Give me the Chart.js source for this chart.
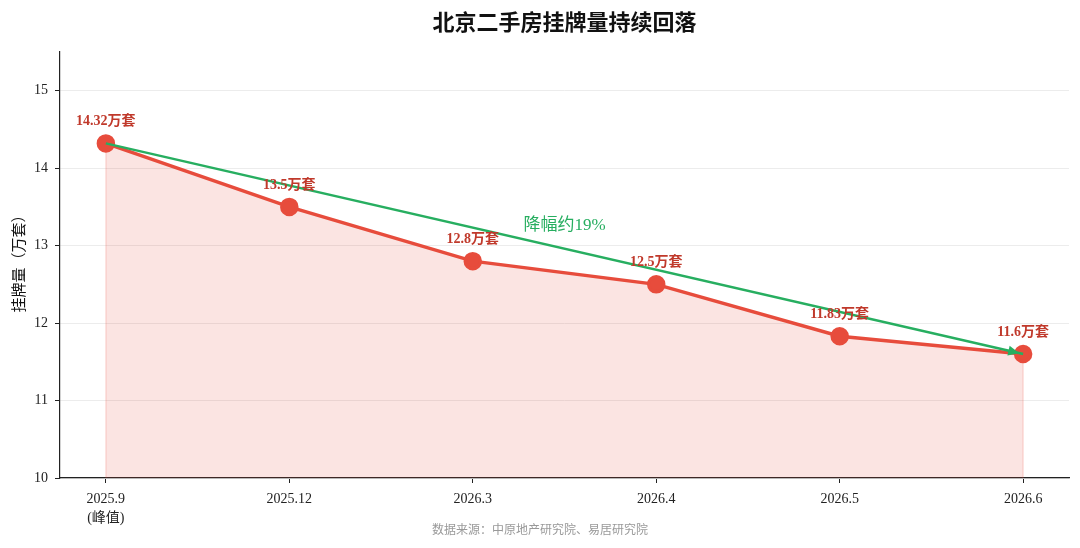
<!DOCTYPE html>
<html>
<head>
<meta charset="utf-8">
<script src="https://cdn.jsdelivr.net/npm/chart.js@4"></script>
<style>
  html, body { margin: 0; padding: 0; background: #fff; }
  canvas { display: block; }
</style>
</head>
<body>
<canvas id="listingChart" width="1080" height="548"></canvas>
<script>
// chart data
const months = ['2025.9', '2025.12', '2026.3', '2026.4', '2026.5', '2026.6'];
const monthNotes = ['(峰值)', '', '', '', '', ''];
const listings = [14.32, 13.5, 12.8, 12.5, 11.83, 11.6];
const yTicks = [10, 11, 12, 13, 14, 15];

const RED = '#e74c3c';
const LABEL_RED = '#c0392b';
const GREEN = '#27ae60';
const SERIF = '"Liberation Serif", "DejaVu Serif", "Noto Sans CJK SC", serif';

/**
 * Draw title, axis title, source note, point labels and arrow head
 */
const decorPlugin = {
    id: 'decor',
    beforeDatasetsDraw(chart) {
        // faint edges of the filled area
        const ctx = chart.ctx;
        const x = chart.scales.x;
        const y = chart.scales.y;
        ctx.save();
        ctx.strokeStyle = 'rgba(231, 76, 60, 0.18)';
        ctx.lineWidth = 1.5;
        [0, listings.length - 1].forEach(i => {
            ctx.beginPath();
            ctx.moveTo(x.getPixelForValue(i), y.getPixelForValue(listings[i]));
            ctx.lineTo(x.getPixelForValue(i), y.bottom);
            ctx.stroke();
        });
        ctx.restore();
    },
    afterDatasetsDraw(chart) {
        const ctx = chart.ctx;
        const x = chart.scales.x;
        const y = chart.scales.y;
        const area = chart.chartArea;
        ctx.save();

        // point labels
        ctx.fillStyle = LABEL_RED;
        ctx.font = 'bold 14px ' + SERIF;
        ctx.textAlign = 'center';
        ctx.textBaseline = 'alphabetic';
        listings.forEach((v, i) => {
            ctx.fillText(v + '万套', x.getPixelForValue(i), y.getPixelForValue(v) - 18);
        });

        // arrow head on the trend line
        const x0 = x.getPixelForValue(0), y0 = y.getPixelForValue(listings[0]);
        const last = listings.length - 1;
        const x1 = x.getPixelForValue(last), y1 = y.getPixelForValue(listings[last]);
        const ang = Math.atan2(y1 - y0, x1 - x0);
        const tipX = x1 - 4 * Math.cos(ang), tipY = y1 - 4 * Math.sin(ang);
        ctx.fillStyle = GREEN;
        ctx.beginPath();
        ctx.moveTo(tipX, tipY);
        ctx.lineTo(tipX - 11 * Math.cos(ang) + 5 * Math.sin(ang), tipY - 11 * Math.sin(ang) - 5 * Math.cos(ang));
        ctx.lineTo(tipX - 11 * Math.cos(ang) - 5 * Math.sin(ang), tipY - 11 * Math.sin(ang) + 5 * Math.cos(ang));
        ctx.closePath();
        ctx.fill();

        // drop label
        ctx.font = '17px ' + SERIF;
        ctx.fillText('降幅约19%', x.getPixelForValue(2.5), y.getPixelForValue(13.2));

        // title
        ctx.fillStyle = '#111';
        ctx.font = 'bold 22px ' + SERIF;
        ctx.textBaseline = 'middle';
        ctx.fillText('北京二手房挂牌量持续回落', (area.left + area.right) / 2, 24);

        // y axis title
        ctx.save();
        ctx.translate(20, 260);
        ctx.rotate(-Math.PI / 2);
        ctx.font = '15px ' + SERIF;
        ctx.fillText('挂牌量（万套）', 0, 0);
        ctx.restore();

        // source
        ctx.fillStyle = '#999';
        ctx.font = '12px ' + SERIF;
        ctx.fillText('数据来源：中原地产研究院、易居研究院', 540, 531);
        ctx.restore();
    }
};

document.addEventListener('DOMContentLoaded', function() {
    const ctx = document.getElementById('listingChart').getContext('2d');
    new Chart(ctx, {
        type: 'line',
        data: {
            datasets: [{
                label: '趋势',
                data: [{ x: 0, y: listings[0] }, { x: listings.length - 1, y: listings[listings.length - 1] }],
                borderColor: GREEN,
                borderWidth: 2.5,
                pointRadius: 0,
                fill: false,
                order: 0
            }, {
                label: '挂牌量',
                data: listings.map((v, i) => ({ x: i, y: v })),
                borderColor: RED,
                borderWidth: 3.5,
                backgroundColor: 'rgba(231, 76, 60, 0.15)',
                pointBackgroundColor: RED,
                pointBorderColor: RED,
                pointRadius: 7.5,
                fill: 'start',
                tension: 0,
                order: 1
            }]
        },
        options: {
            responsive: false,
            animation: false,
            layout: { padding: { top: 52, right: 10, left: 0, bottom: 0 } },
            plugins: {
                legend: { display: false },
                tooltip: { enabled: false }
            },
            scales: {
                x: {
                    type: 'linear',
                    min: -0.25,
                    max: months.length - 0.75,
                    afterBuildTicks: function(scale) {
                        scale.ticks = months.map((_, i) => ({ value: i }));
                    },
                    afterFit: function(scale) { scale.height = 70; },
                    grid: { drawOnChartArea: false, tickLength: 5, tickColor: '#222' },
                    border: { color: '#222', width: 1.2 },
                    ticks: {
                        color: '#222',
                        font: { family: SERIF, size: 14, lineHeight: 1.35 },
                        maxRotation: 0,
                        padding: 7,
                        callback: function(value) {
                            const i = Math.round(value);
                            return monthNotes[i] ? [months[i], monthNotes[i]] : months[i];
                        }
                    }
                },
                y: {
                    min: 10,
                    max: 15.5,
                    afterBuildTicks: function(scale) {
                        scale.ticks = yTicks.map(v => ({ value: v }));
                    },
                    afterFit: function(scale) { scale.width = 60; },
                    grid: { color: '#ececec', tickLength: 5, tickColor: '#222' },
                    border: { color: '#222', width: 1.2 },
                    ticks: {
                        color: '#222',
                        font: { family: SERIF, size: 14 },
                        padding: 7
                    }
                }
            }
        },
        plugins: [decorPlugin]
    });
});
</script>
</body>
</html>
